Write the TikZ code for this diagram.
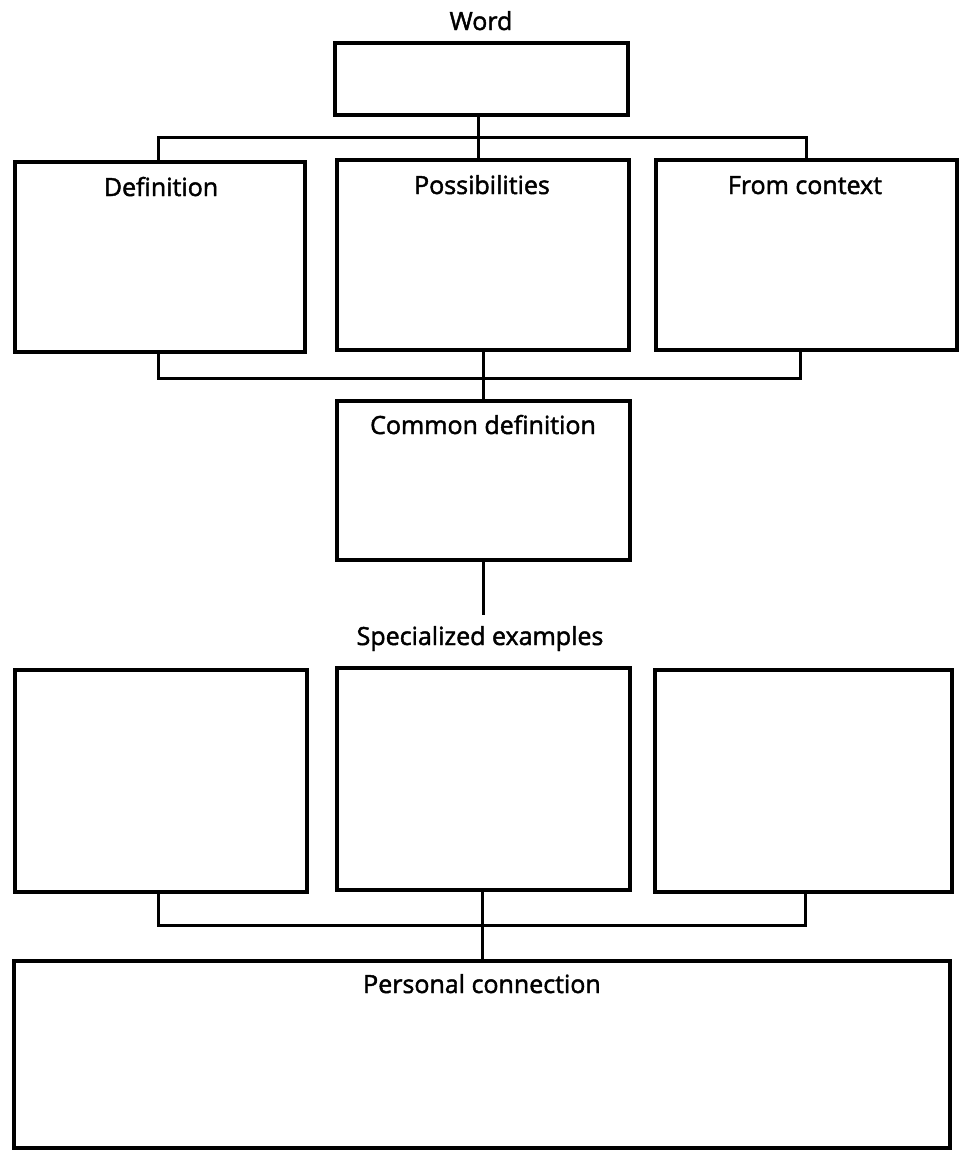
\documentclass[tikz,border=0pt]{standalone}
\usepackage{fontspec}
\setmainfont{Open Sans}
\newfontfamily\labelfont{Open Sans}[FakeBold=1.8]
\usetikzlibrary{calc}
\begin{document}
\begin{tikzpicture}[x=1pt,y=-1pt,
  box/.style={draw, line width=3.1pt, inner sep=0pt, outer sep=0pt, line join=miter},
  link/.style={line width=3pt, line join=miter},
  lbl/.style={anchor=base, inner sep=0pt, font=\labelfont\fontsize{25}{30}\selectfont}]
\useasboundingbox (0,0) rectangle (961,1152);

% word box and its title
\node[box, minimum width=293pt, minimum height=72pt] (word) at (481.5,79) {};
\node[lbl] (wordlbl) at (481,30) {Word};

% first row of three boxes
\node[box, minimum width=290pt, minimum height=190pt] (def)  at (160,257) {};
\node[box, minimum width=292pt, minimum height=190pt] (poss) at (483,255) {};
\node[box, minimum width=301pt, minimum height=190pt] (ctx)  at (806.5,255) {};
\node[lbl] (deflbl)  at (161,196) {Definition};
\node[lbl] (posslbl) at (482,194) {Possibilities};
\node[lbl] (ctxlbl)  at (805,194) {From context};

% common definition
\node[box, minimum width=293pt, minimum height=159pt] (common) at (483.5,480.5) {};
\node[lbl] (commonlbl) at (483,434) {Common definition};

% specialized examples
\coordinate (exend) at (483,615);
\node[lbl] (exlbl) at (480,645) {Specialized examples};
\node[box, minimum width=292pt, minimum height=222pt] (ex1) at (161,781) {};
\node[box, minimum width=293pt, minimum height=222pt] (ex2) at (483.5,779) {};
\node[box, minimum width=297pt, minimum height=222pt] (ex3) at (803.5,781) {};

% personal connection
\node[box, minimum width=936pt, minimum height=187pt] (pers) at (482,1054.5) {};
\node[lbl] (perslbl) at (482,993) {Personal connection};

% fork from the word box to the first row
\coordinate (top) at (478,137);
\draw[link] (word.south -| top) -- (poss.north -| top);
\draw[link] ($(def.north)+(-2,0)$) |- (top) -| (ctx.north);

% join of the first row into the common definition
\coordinate (mid) at (483,378);
\draw[link] ($(def.south)+(-2,0)$) |- (mid) -| ($(ctx.south)+(-6,0)$);
\draw[link] (poss.south) -- (common.north -| poss.south);

% common definition down to the examples
\draw[link] (common.south -| exend) -- (exend);

% join of the examples into the personal connection
\coordinate (low) at (482,925);
\draw[link] ($(ex1.south)+(-3,0)$) |- (low) -| ($(ex3.south)+(1.5,0)$);
\draw[link] (ex2.south -| low) -- (pers.north -| low);
\end{tikzpicture}
\end{document}
